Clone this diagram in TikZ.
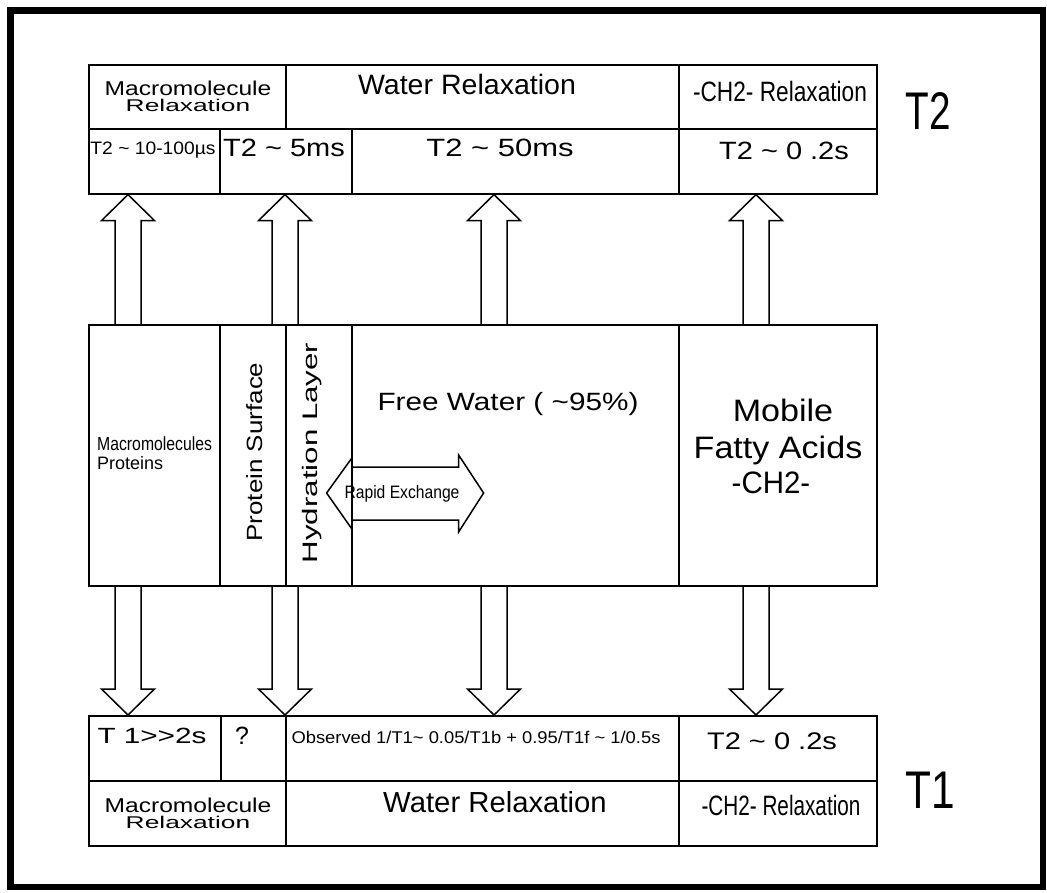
\documentclass[tikz,border=0pt]{standalone}
\usepackage{fontspec}
\usepackage{graphicx}
\setmainfont{Liberation Sans}
\usetikzlibrary{calc}

% text in a given size (pt) with a horizontal stretch
\newcommand\cad[3]{\scalebox{#2}[1]{\fontsize{#1pt}{#1pt}\selectfont #3}}

% hollow block arrow from a box edge to the tip
\newcommand\fatarrow[2]{%
  \coordinate (fa-b) at ($(#2)!26pt!(#1)$);
  \draw[fat] ($(#1)!13pt!90:(#2)$) -- ($(fa-b)!13pt!90:(#2)$) -- ($(fa-b)!26.5pt!90:(#2)$)
    -- (#2) -- ($(fa-b)!26.5pt!-90:(#2)$) -- ($(fa-b)!13pt!-90:(#2)$) -- ($(#1)!13pt!-90:(#2)$);
}

\begin{document}
\begin{tikzpicture}[x=1pt, y=-1pt,
    cell/.style={draw, line width=1.6pt, anchor=north west, inner sep=0pt},
    txt/.style={inner sep=0pt, anchor=base},
    fat/.style={draw, line width=1.5pt, line join=miter}
]
\useasboundingbox (0,0) rectangle (1047,893);
\draw[line width=6.5pt] (10.5,10.5) rectangle (1043,887);

% T2 table
\node[cell, minimum width=197, minimum height=64] (tmac) at (88,64) {};
\node[cell, minimum width=393, minimum height=64] (twat) at (285,64) {};
\node[cell, minimum width=198, minimum height=64] (tch) at (678,64) {};
\node[cell, minimum width=131, minimum height=65] (t10) at (88,128) {};
\node[cell, minimum width=132, minimum height=65] (t5) at (219,128) {};
\node[cell, minimum width=327, minimum height=65] (t50) at (351,128) {};
\node[cell, minimum width=198, minimum height=65] (t02) at (678,128) {};

\node[txt] (tmac-a) at (188,96) {\cad{20}{1.23}{Macromolecule}};
\node[txt] (tmac-b) at (188,112) {\cad{17}{1.55}{Relaxation}};
\node[txt] (twat-l) at (467,95) {\cad{28}{1.02}{Water Relaxation}};
\node[txt] (tch-l) at (780,102) {\cad{28}{0.81}{-CH2- Relaxation}};
\node[txt] (t10-l) at (153,155) {\cad{18}{1.07}{T2 \textasciitilde\ 10-100µs}};
\node[txt] (t5-l) at (284,157) {\cad{25}{1.16}{T2 \textasciitilde\ 5ms}};
\node[txt] (t50-l) at (500,157) {\cad{25}{1.24}{T2 \textasciitilde\ 50ms}};
\node[txt] (t02-l) at (784,160) {\cad{25}{1.16}{T2 \textasciitilde\ 0 .2s}};
\node[txt] (ttwo) at (928,130) {\cad{53}{0.73}{T2}};

% tissue compartments
\node[cell, minimum width=131, minimum height=261] (mmac) at (88,324) {};
\node[cell, minimum width=66, minimum height=261] (msurf) at (219,324) {};
\node[cell, minimum width=66, minimum height=261] (mhyd) at (285,324) {};
\node[cell, minimum width=327, minimum height=261] (mfree) at (351,324) {};
\node[cell, minimum width=198, minimum height=261] (mfat) at (678,324) {};

\node[txt, anchor=base west] (mmac-a) at (97,450) {\cad{19}{0.83}{Macromolecules}};
\node[txt, anchor=base west] (mmac-b) at (97,469) {\cad{18}{1.0}{Proteins}};
\node[txt, rotate=90] (msurf-l) at (262,452) {\cad{22}{1.18}{Protein Surface}};
\node[txt, rotate=90] (mhyd-l) at (317,453) {\cad{21}{1.49}{Hydration Layer}};
\node[txt] (mfree-l) at (508,410) {\cad{25}{1.19}{Free Water ( \textasciitilde95\%)}};
\node[txt] (mfat-a) at (783,421) {\cad{31}{1.1}{Mobile}};
\node[txt] (mfat-b) at (778,458) {\cad{31}{1.1}{Fatty Acids}};
\node[txt] (mfat-c) at (771,493) {\cad{31}{0.95}{-CH2-}};

% rapid exchange
\coordinate (rx) at (mhyd.east |- 0,493);
\draw[fat] ([yshift=36]rx) -- ([xshift=-26]rx) -- ([yshift=-37]rx);
\draw[fat] ([yshift=26]rx) -- ([xshift=106,yshift=26]rx) -- ([xshift=106,yshift=38]rx)
  -- ([xshift=131]rx) -- ([xshift=106,yshift=-39]rx) -- ([xshift=106,yshift=-27]rx) -- ([yshift=-27]rx);
\node[txt] (rx-l) at (402,498) {\cad{18}{0.87}{Rapid Exchange}};

% T1 table
\node[cell, minimum width=132, minimum height=65] (b2s) at (88,715) {};
\node[cell, minimum width=65, minimum height=65] (bq) at (220,715) {};
\node[cell, minimum width=393, minimum height=65] (bobs) at (285,715) {};
\node[cell, minimum width=198, minimum height=65] (b02) at (678,715) {};
\node[cell, minimum width=197, minimum height=65] (bmac) at (88,780) {};
\node[cell, minimum width=393, minimum height=65] (bwat) at (285,780) {};
\node[cell, minimum width=198, minimum height=65] (bch) at (678,780) {};

\node[txt] (b2s-l) at (152,743) {\cad{22}{1.35}{T 1>{}>2s}};
\node[txt] (bq-l) at (242,744) {\cad{25}{1.0}{?}};
\node[txt] (bobs-l) at (476,743) {\cad{17}{1.08}{Observed 1/T1\textasciitilde\ 0.05/T1b + 0.95/T1f \textasciitilde\ 1/0.5s}};
\node[txt] (b02-l) at (772,749) {\cad{24}{1.21}{T2 \textasciitilde\ 0 .2s}};
\node[txt] (bmac-a) at (188,812) {\cad{20}{1.23}{Macromolecule}};
\node[txt] (bmac-b) at (188,828) {\cad{17}{1.55}{Relaxation}};
\node[txt] (bwat-l) at (495,812) {\cad{29}{1.01}{Water Relaxation}};
\node[txt] (bch-l) at (781,815) {\cad{28}{0.74}{-CH2- Relaxation}};
\node[txt] (tone) at (930,808) {\cad{53}{0.8}{T1}};

% arrows
\coordinate (a1) at (128,0);
\coordinate (a2) at (285,0);
\coordinate (a3) at (494,0);
\coordinate (a4) at (756,0);
\fatarrow{mmac.north -| a1}{t10.south -| a1}
\fatarrow{mhyd.north -| a2}{t5.south -| a2}
\fatarrow{mfree.north -| a3}{t50.south -| a3}
\fatarrow{mfat.north -| a4}{t02.south -| a4}
\fatarrow{mmac.south -| a1}{b2s.north -| a1}
\fatarrow{mhyd.south -| a2}{bobs.north -| a2}
\fatarrow{mfree.south -| a3}{bobs.north -| a3}
\fatarrow{mfat.south -| a4}{b02.north -| a4}

\end{tikzpicture}
\end{document}
